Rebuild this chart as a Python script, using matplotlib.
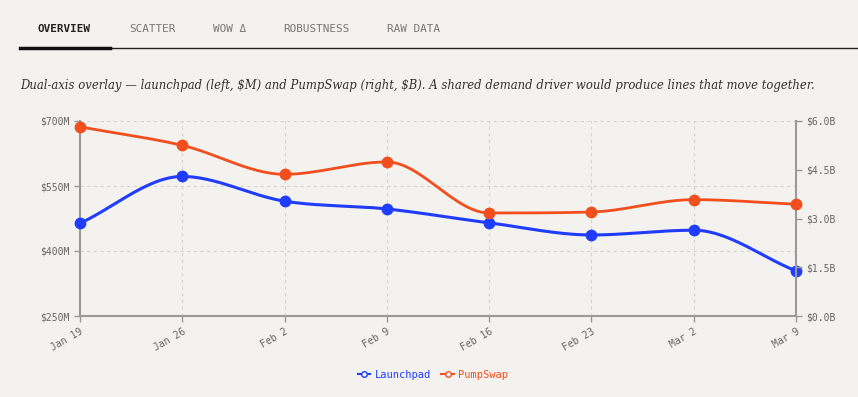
import numpy as np
import matplotlib.pyplot as plt
from matplotlib.lines import Line2D

# data
weeks = ["Jan 19", "Jan 26", "Feb 2", "Feb 9", "Feb 16", "Feb 23", "Mar 2", "Mar 9"]
launchpad = [464, 572, 515, 497, 465, 437, 448, 354]      # $M
pumpswap = [5.82, 5.25, 4.36, 4.74, 3.17, 3.20, 3.58, 3.44]  # $B
tabs = ["OVERVIEW", "SCATTER", "WOW Δ", "ROBUSTNESS", "RAW DATA"]

BG = "#f4f2ee"
BLUE = "#1f3cff"
ORANGE = "#f24e1e"
AX = "#9a9a9a"
TXT = "#666666"


def monotone(x, y, n=30):
    # monotone cubic (like d3 curveMonotoneX) for drawing the smooth line
    x = np.asarray(x, float); y = np.asarray(y, float)
    h = np.diff(x); d = np.diff(y) / h
    m = np.zeros_like(y)
    m[0], m[-1] = d[0], d[-1]
    for i in range(1, len(y) - 1):
        if d[i - 1] * d[i] <= 0:
            m[i] = 0
        else:
            m[i] = (d[i - 1] + d[i]) / 2
            m[i] = np.sign(m[i]) * min(abs(m[i]), 3 * abs(d[i - 1]), 3 * abs(d[i]))
    xs, ys = [], []
    for i in range(len(h)):
        t = np.linspace(0, 1, n)
        h00 = 2*t**3 - 3*t**2 + 1; h10 = t**3 - 2*t**2 + t
        h01 = -2*t**3 + 3*t**2; h11 = t**3 - t**2
        xs.append(x[i] + t * h[i])
        ys.append(h00*y[i] + h10*h[i]*m[i] + h01*y[i+1] + h11*h[i]*m[i+1])
    return np.concatenate(xs), np.concatenate(ys)


plt.rcParams["text.parse_math"] = False
fig = plt.figure(figsize=(8.58, 3.97), dpi=100, facecolor=BG)
mono = "DejaVu Sans Mono"

# tabs
tab_x = [38, 129, 213, 283, 387]
for i, (t, xp) in enumerate(zip(tabs, tab_x)):
    fig.text(xp / 858, 1 - 29 / 397, t, family=mono, fontsize=7.9,
             color="#222222" if i == 0 else "#777777",
             weight="bold" if i == 0 else "normal", va="center")
fig.add_artist(Line2D([20 / 858, 1], [1 - 48 / 397] * 2, color="#222222", lw=1))
fig.add_artist(Line2D([20 / 858, 110 / 858], [1 - 47.5 / 397] * 2, color="#111111", lw=2.5))

fig.text(20 / 858, 1 - 85 / 397,
         "Dual-axis overlay — launchpad (left, $M) and PumpSwap (right, $B). "
         "A shared demand driver would produce lines that move together.",
         family="DejaVu Serif", style="italic", fontsize=8.35, color="#333333", va="center")

ax = fig.add_axes([80 / 858, 1 - 316 / 397, 716 / 858, 195 / 397])
ax.set_facecolor(BG)
ax2 = ax.twinx()

x = np.arange(len(weeks))
sx, sy = monotone(x, launchpad)
ax.plot(sx, sy, color=BLUE, lw=2.2, zorder=3)
ax.plot(x, launchpad, "o", color=BLUE, ms=7.5, zorder=4, clip_on=False)
sx2, sy2 = monotone(x, pumpswap)
ax2.plot(sx2, sy2, color=ORANGE, lw=2.0, zorder=3)
ax2.plot(x, pumpswap, "o", color=ORANGE, ms=7.5, zorder=4, clip_on=False)

ax.set_xlim(0, len(weeks) - 1)
ax.set_ylim(250, 700)
ax2.set_ylim(0, 6)
ax.set_yticks([250, 400, 550, 700])
ax.set_yticklabels([f"${v}M" for v in [250, 400, 550, 700]])
ax2.set_yticks([0, 1.5, 3, 4.5, 6])
ax2.set_yticklabels([f"${v:.1f}B" for v in [0, 1.5, 3, 4.5, 6]])
ax.set_xticks(x)
ax.set_xticklabels(weeks, rotation=30, ha="right", rotation_mode="anchor")

ax.grid(True, color="#d6d4d0", ls=(0, (3, 3)), lw=0.8)
for a in (ax, ax2):
    for s in a.spines.values():
        s.set_visible(False)
    a.tick_params(colors=AX, labelcolor=TXT, labelsize=7, length=4, width=1)
    for lab in a.get_xticklabels() + a.get_yticklabels():
        lab.set_family(mono)
ax.spines["left"].set_visible(True)
ax.spines["bottom"].set_visible(True)
ax2.spines["right"].set_visible(True)
for s in [ax.spines["left"], ax.spines["bottom"], ax2.spines["right"]]:
    s.set_color(AX); s.set_linewidth(1.5)

handles = [Line2D([], [], color=BLUE, marker="o", mfc="white", ms=4, lw=1.5),
           Line2D([], [], color=ORANGE, marker="o", mfc="white", ms=4, lw=1.5)]
leg = fig.legend(handles, ["Launchpad", "PumpSwap"], loc="center",
                 bbox_to_anchor=(433 / 858, 1 - 375 / 397), ncol=2, frameon=False,
                 prop={"family": mono, "size": 7.5}, handlelength=1.2,
                 handletextpad=0.4, columnspacing=1.0, labelcolor="linecolor")

fig.savefig("out.png", dpi=100, facecolor=BG)
